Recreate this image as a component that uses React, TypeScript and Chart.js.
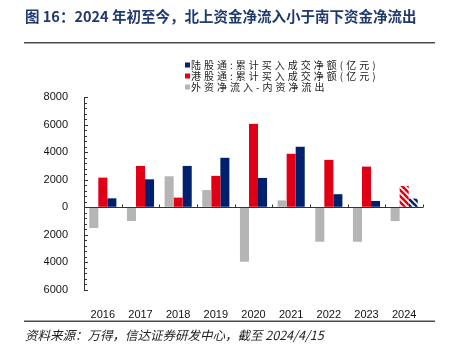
import React, { useEffect, useRef } from "react";
import { Chart, registerables } from "chart.js";

Chart.register(...registerables);

const years = ["2016", "2017", "2018", "2019", "2020", "2021", "2022", "2023", "2024"];
const northbound = [650, 2030, 3000, 3590, 2130, 4390, 950, 460, 630];
const southbound = [2150, 3000, 700, 2280, 6050, 3880, 3440, 2950, 1550];
const netForeign = [-1500, -1000, 2250, 1250, -3950, 500, -2500, -2500, -1000];
const yMajorTicks = [-6000, -4000, -2000, 0, 2000, 4000, 6000, 8000];
const yTickLabels = ["\u22126000", "\u22124000", "\u22122000", "0", "2000", "4000", "6000", "8000"];

const titleText = "图 16：2024 年初至今，北上资金净流入小于南下资金净流出";
const legendLabels = [
  "陆股通:累计买入成交净额(亿元)",
  "港股通:累计买入成交净额(亿元)",
  "外资净流入-内资净流出",
];
const sourceText = "资料来源：万得，信达证券研发中心，截至 2024/4/15";

const BLUE = "#00206e";
const RED = "#e00016";
const GRAY = "#b5b5b5";
const legendColors = [BLUE, RED, GRAY];
const CJK = "'Noto Sans CJK SC', 'Noto Sans', sans-serif";

function hatch(color: string): CanvasPattern | string {
  const c = document.createElement("canvas");
  c.width = 6;
  c.height = 6;
  const x = c.getContext("2d");
  if (!x) return color;
  x.fillStyle = "#ffffff";
  x.fillRect(0, 0, 6, 6);
  x.strokeStyle = color;
  x.lineWidth = 2.6;
  x.beginPath();
  x.moveTo(-1, -1);
  x.lineTo(7, 7);
  x.moveTo(-1, 5);
  x.lineTo(7, 13);
  x.moveTo(-1, -7);
  x.lineTo(7, 1);
  x.stroke();
  return x.createPattern(c, "repeat") || color;
}

const axisDeco = {
  id: "axisDeco",
  afterDatasetsDraw(chart: any) {
    const { ctx, chartArea, scales } = chart;
    const y = scales.y;
    const x = scales.x;
    const y0 = Math.round(y.getPixelForValue(0)) + 0.5;
    ctx.save();
    ctx.strokeStyle = "#333333";
    ctx.lineWidth = 1;
    ctx.beginPath();
    ctx.moveTo(chartArea.left, y0);
    ctx.lineTo(chartArea.right, y0);
    for (let i = 0; i < years.length; i++) {
      const px = Math.round(x.getPixelForValue(i + 0.5)) + 0.5;
      ctx.moveTo(px, y0);
      ctx.lineTo(px, y0 - 3);
    }
    for (const t of y.ticks) {
      const py = Math.round(y.getPixelForValue(t.value)) + 0.5;
      const major = yMajorTicks.includes(t.value);
      ctx.moveTo(chartArea.left, py);
      ctx.lineTo(chartArea.left + (major ? 4 : 3), py);
    }
    ctx.stroke();
    ctx.restore();
  },
};

const frameText = {
  id: "frameText",
  afterDraw(chart: any) {
    const { ctx } = chart;
    ctx.save();
    ctx.fillStyle = "#213a6d";
    ctx.font = `bold 14.5px ${CJK}`;
    ctx.textAlign = "left";
    ctx.textBaseline = "middle";
    ctx.fillText(titleText, 25, 16);
    ctx.fillStyle = "#4a4a4a";
    ctx.fillRect(24, 42, 411, 1.5);
    ctx.fillRect(24, 320.5, 411, 1.5);
    ctx.font = `10px ${CJK}`;
    (ctx as any).letterSpacing = "3px";
    legendLabels.forEach((t, i) => {
      const cy = 65 + i * 11;
      ctx.fillStyle = legendColors[i];
      ctx.fillRect(185, cy - 2.5, 5, 5);
      ctx.fillStyle = "#222222";
      ctx.fillText(t, 191, cy);
    });
    (ctx as any).letterSpacing = "0px";
    ctx.fillStyle = "#222222";
    ctx.font = `italic 12.5px ${CJK}`;
    ctx.fillText(sourceText, 25, 335);
    ctx.restore();
  },
};

export default function App() {
  const ref = useRef<HTMLCanvasElement | null>(null);

  useEffect(() => {
    if (!ref.current) return;
    const last = years.length - 1;
    const redFill = southbound.map((_, i) => (i === last ? hatch(RED) : RED));
    const blueFill = northbound.map((_, i) => (i === last ? hatch(BLUE) : BLUE));
    const chart = new Chart(ref.current, {
      type: "bar",
      data: {
        labels: years,
        datasets: [
          { label: legendLabels[2], data: netForeign, backgroundColor: GRAY, barPercentage: 1, categoryPercentage: 0.72 },
          { label: legendLabels[1], data: southbound, backgroundColor: redFill as any, barPercentage: 1, categoryPercentage: 0.72 },
          { label: legendLabels[0], data: northbound, backgroundColor: blueFill as any, barPercentage: 1, categoryPercentage: 0.72 },
        ],
      },
      options: {
        responsive: false,
        animation: false,
        layout: { padding: { top: 97, left: 44, right: 31, bottom: 32 } },
        plugins: {
          legend: { display: false },
          tooltip: { enabled: false },
          title: { display: false },
        },
        scales: {
          x: {
            grid: { display: false },
            border: { display: false },
            ticks: {
              color: "#111111",
              font: { family: "'Liberation Sans', Arial, sans-serif", size: 11 },
              padding: 10,
              maxRotation: 0,
            },
            afterFit: (s: any) => {
              s.height = 30;
            },
          },
          y: {
            min: -6000,
            max: 8000,
            grid: { display: true, drawOnChartArea: false, drawTicks: false },
            border: { display: true, color: "#333333", width: 1 },
            ticks: {
              stepSize: 400,
              autoSkip: false,
              padding: 16,
              color: "#111111",
              font: { family: "'Liberation Sans', Arial, sans-serif", size: 11 },
              callback: (v: any) => {
                const idx = yMajorTicks.indexOf(Number(v));
                return idx < 0 ? "" : yTickLabels[idx];
              },
            },
            afterFit: (s: any) => {
              s.width = 40;
            },
          },
        },
      },
      plugins: [axisDeco, frameText],
    });
    return () => chart.destroy();
  }, []);

  return (
    <div style={{ position: "fixed", left: 0, top: 0, width: 454, height: 352, background: "#ffffff", overflow: "hidden" }}>
      <canvas ref={ref} width={454} height={352} style={{ position: "absolute", left: 0, top: 0, display: "block" }} />
    </div>
  );
}
